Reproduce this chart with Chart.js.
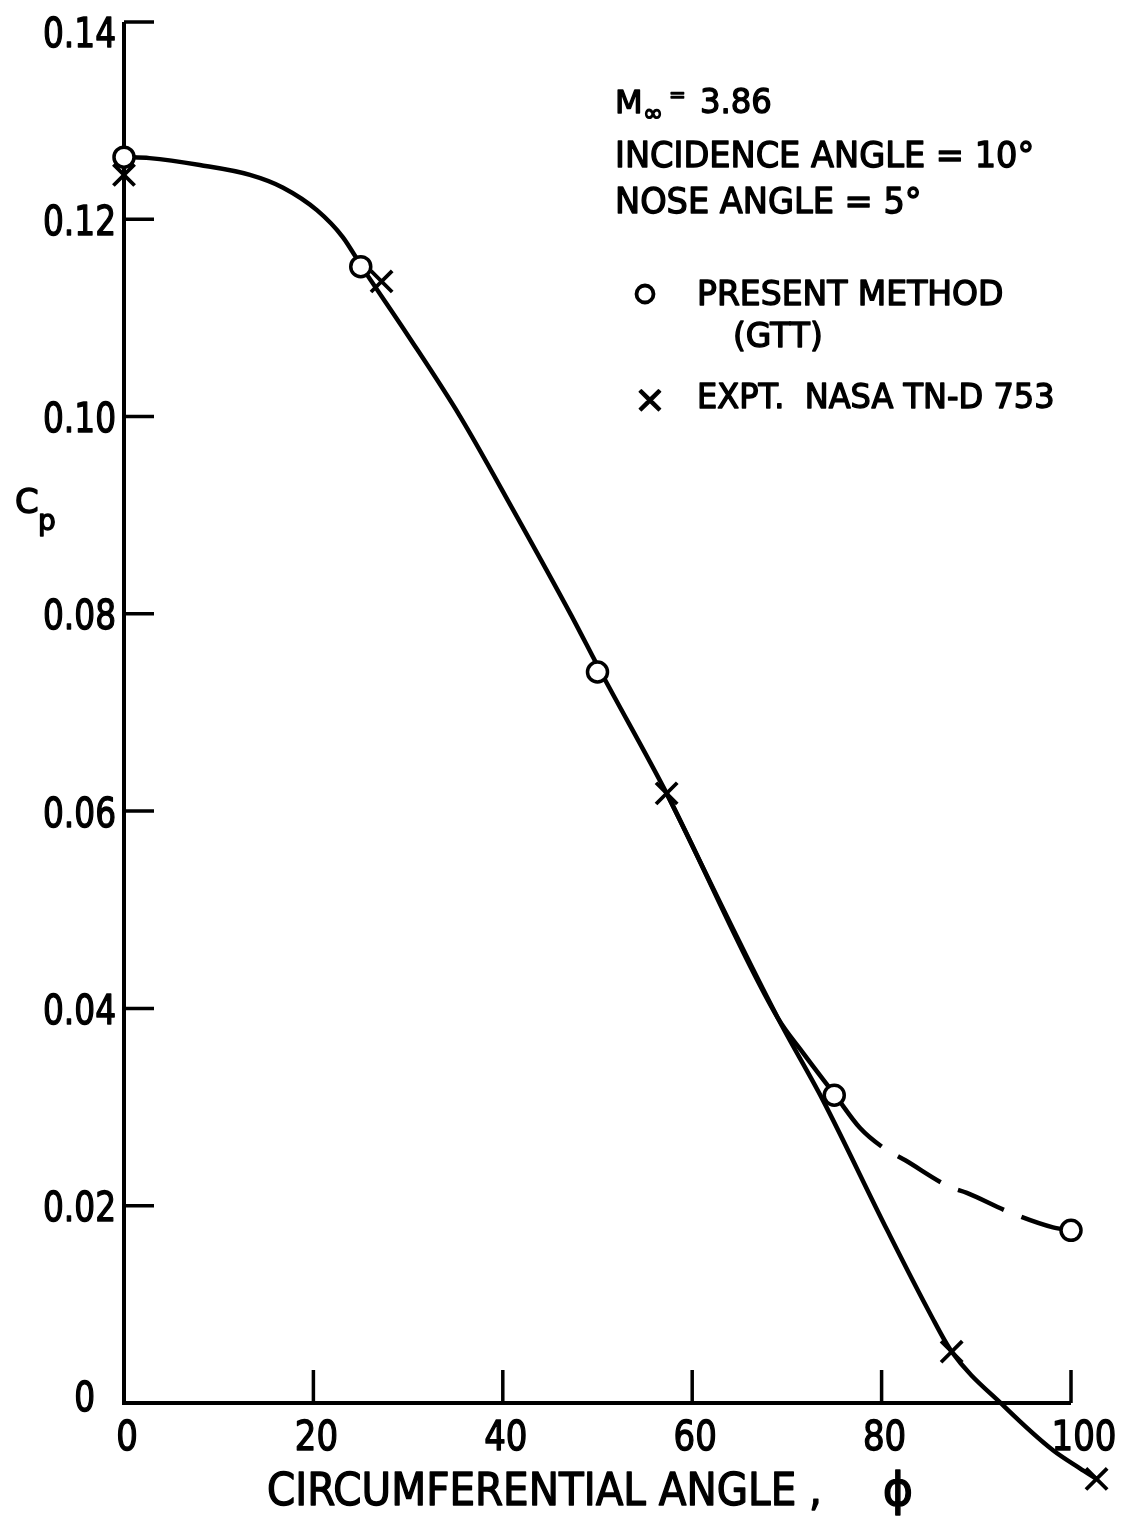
<!DOCTYPE html>
<html>
<head>
<meta charset="utf-8">
<script src="https://cdn.jsdelivr.net/npm/chart.js@4.4.0/dist/chart.umd.min.js"></script>
<style>
  html, body { margin: 0; padding: 0; background: #fff; }
  canvas { display: block; }
</style>
</head>
<body>
<canvas id="cp" width="1131" height="1519"></canvas>
<script>
// Pressure coefficient around a cone at incidence, M = 3.86

// Computed points, present method (GTT)
const gttAngle = [0, 25, 50, 75, 100];
const gttCp    = [0.1263, 0.1152, 0.0741, 0.0312, 0.0175];

// Experimental points, NASA TN-D 753
const exptAngle = [0, 27.2, 57.3, 87.4, 102.7];
const exptCp    = [0.1245, 0.1137, 0.0618, 0.0052, -0.0077];

// Faired curve through the GTT results (solid, then dashed past 80 deg)
const gttCurveAngle = [0, 2.7, 8.0, 13.3, 16.8, 20.4, 23.1, 25.1, 30.0, 35.5, 41.0, 47.2, 50.3, 57.3, 69.0, 71.7, 75.1, 77.7, 80.0, 82.5, 87.2, 89.0, 93.6, 98.1, 99.9];
const gttCurveCp    = [0.1263, 0.1262, 0.1255, 0.1245, 0.1232, 0.1209, 0.1182, 0.1152, 0.1082, 0.1000, 0.0907, 0.0799, 0.0742, 0.0618, 0.0391, 0.0355, 0.0312, 0.0279, 0.0260, 0.0246, 0.0219, 0.0213, 0.0193, 0.0178, 0.0175];

// Faired curve through the experiment where it leaves the GTT curve
const exptCurveAngle = [57.3, 69.0, 73.8, 80.6, 85.1, 87.4, 93.0, 98.1, 100.9, 102.7];
const exptCurveCp    = [0.0618, 0.0391, 0.0307, 0.0175, 0.0091, 0.0052, -0.0004, -0.0048, -0.0066, -0.0077];

// Axis ticks
const xTicks = [0, 20, 40, 60, 80, 100];
const xTickLabels = ['0', '20', '40', '60', '80', '100'];
const yTicks = [0, 0.02, 0.04, 0.06, 0.08, 0.10, 0.12, 0.14];
const yTickLabels = ['0', '0.02', '0.04', '0.06', '0.08', '0.10', '0.12', '0.14'];

const FONT = '"DejaVu Sans", "Liberation Sans", sans-serif';
const INK = '#000';

const pairs = (xs, ys) => xs.map((x, i) => ({ x: x, y: ys[i] }));

function drawText(ctx, s, x, y, size, opt) {
  opt = opt || {};
  ctx.save();
  ctx.font = size + 'px ' + FONT;
  ctx.textAlign = opt.align || 'left';
  ctx.textBaseline = opt.base || 'alphabetic';
  ctx.translate(x, y);
  ctx.scale(opt.sx || 1, 1);
  ctx.fillStyle = INK;
  ctx.fillText(s, 0, 0);
  ctx.lineWidth = opt.lw !== undefined ? opt.lw : 1.4;
  ctx.strokeStyle = INK;
  ctx.lineJoin = 'round';
  ctx.strokeText(s, 0, 0);
  ctx.restore();
}

// Axes drawn as an open frame: left axis up to 0.14, bottom axis out to 100,
// with inward tick marks.
const frameAxes = {
  id: 'frameAxes',
  beforeDatasetsDraw(chart) {
    const ctx = chart.ctx;
    const xs = chart.scales.x, ys = chart.scales.y;
    const x0 = xs.getPixelForValue(0);
    const xEnd = xs.getPixelForValue(xTicks[xTicks.length - 1]);
    const y0 = ys.getPixelForValue(0);
    const yTop = ys.getPixelForValue(yTicks[yTicks.length - 1]);
    ctx.save();
    ctx.strokeStyle = INK;
    ctx.lineWidth = 4;
    ctx.lineCap = 'butt';
    ctx.beginPath();
    ctx.moveTo(x0, yTop);
    ctx.lineTo(x0, y0);
    ctx.lineTo(xEnd, y0);
    ctx.stroke();
    ctx.lineWidth = 3.5;
    ctx.beginPath();
    yTicks.forEach(v => {
      if (v === 0) return;
      const py = ys.getPixelForValue(v);
      ctx.moveTo(x0, py);
      ctx.lineTo(x0 + 30, py);
    });
    xTicks.forEach(v => {
      if (v === 0) return;
      const px = xs.getPixelForValue(v);
      ctx.moveTo(px, y0);
      ctx.lineTo(px, y0 - 33);
    });
    ctx.stroke();
    ctx.restore();
  },
  afterDraw(chart) {
    const ctx = chart.ctx;
    const xs = chart.scales.x, ys = chart.scales.y;
    const x0 = xs.getPixelForValue(0);
    const y0 = ys.getPixelForValue(0);
    const top = chart.chartArea.top;

    // y tick labels
    const ySize = 40, ySx = 0.82;
    yTicks.forEach((v, i) => {
      const py = ys.getPixelForValue(v);
      let cy = Math.max(py + 1, top + 10);
      let right = x0 - 8;
      if (v === 0) { cy = py - 7; right = x0 - 29; }
      drawText(ctx, yTickLabels[i], right, cy + 0.365 * ySize, ySize, { align: 'right', sx: ySx });
    });

    // x tick labels
    const xSize = 41, xSx = 0.83;
    xTicks.forEach((v, i) => {
      const px = xs.getPixelForValue(v);
      const shift = v === 100 ? 13 : 3;
      drawText(ctx, xTickLabels[i], px + shift, y0 + 47, xSize, { align: 'center', sx: xSx });
    });

    // axis titles
    drawText(ctx, 'CIRCUMFERENTIAL ANGLE ,', 267, 1505, 44, { sx: 0.92 });
    drawText(ctx, '\u03D5', 898, 1505, 46, { align: 'center' });
    drawText(ctx, 'C', 15, 513, 34);
    drawText(ctx, 'p', 38, 530, 28);

    // flow conditions
    drawText(ctx, 'M', 615, 113, 32);
    drawText(ctx, '\u221E', 643, 121, 24);
    drawText(ctx, '=', 669, 101, 20);
    drawText(ctx, '3.86', 700, 113, 34, { sx: 0.95 });
    drawText(ctx, 'INCIDENCE ANGLE = 10\u00B0', 615, 167, 35, { sx: 0.96 });
    drawText(ctx, 'NOSE ANGLE = 5\u00B0', 615, 213, 35, { sx: 0.96 });

    // key
    ctx.save();
    ctx.strokeStyle = INK;
    ctx.lineWidth = 3.8;
    ctx.beginPath();
    ctx.arc(645, 294, 8.5, 0, Math.PI * 2);
    ctx.stroke();
    ctx.restore();
    drawText(ctx, 'PRESENT METHOD', 697, 305, 33);
    drawText(ctx, '(GTT)', 733, 347, 33);
    drawText(ctx, '\u00D7', 650, 412, 38, { align: 'center' });
    drawText(ctx, 'EXPT.  NASA TN-D 753', 697, 408, 33, { sx: 0.97 });
  }
};

const X_MIN = 0, X_MAX = 105, Y_MIN = -0.01, Y_MAX = 0.14;
const PX_PER_DEG = 9.47;
const PX_PER_CP = 9864;
const LEFT = 124, TOP = 22;

new Chart(document.getElementById('cp'), {
  type: 'scatter',
  data: {
    datasets: [
      {
        label: 'PRESENT METHOD (GTT)',
        data: pairs(gttAngle, gttCp),
        pointStyle: 'circle',
        pointRadius: 10,
        pointBorderWidth: 3.5,
        pointBackgroundColor: '#fff',
        pointBorderColor: INK,
        showLine: false,
        clip: false,
        order: 0
      },
      {
        label: 'EXPT. NASA TN-D 753',
        data: pairs(exptAngle, exptCp),
        pointStyle: 'crossRot',
        pointRadius: 15,
        pointBorderWidth: 3.8,
        pointBorderColor: INK,
        showLine: false,
        clip: false,
        order: 0
      },
      {
        label: 'GTT curve',
        data: pairs(gttCurveAngle, gttCurveCp),
        showLine: true,
        pointRadius: 0,
        borderColor: INK,
        borderWidth: 4.5,
        cubicInterpolationMode: 'monotone',
        clip: false,
        order: 2,
        segment: {
          borderDash: c => c.p0.parsed.x >= 80 ? [50, 19] : undefined,
          borderDashOffset: c => c.p0.parsed.x >= 80 ? 50 : undefined
        }
      },
      {
        label: 'Experiment curve',
        data: pairs(exptCurveAngle, exptCurveCp),
        showLine: true,
        pointRadius: 0,
        borderColor: INK,
        borderWidth: 4.5,
        cubicInterpolationMode: 'monotone',
        clip: false,
        order: 2
      }
    ]
  },
  options: {
    responsive: false,
    animation: false,
    devicePixelRatio: 1,
    layout: {
      autoPadding: false,
      padding: {
        left: LEFT,
        top: TOP,
        right: 1131 - LEFT - (X_MAX - X_MIN) * PX_PER_DEG,
        bottom: 1519 - TOP - (Y_MAX - Y_MIN) * PX_PER_CP
      }
    },
    plugins: { legend: { display: false }, tooltip: { enabled: false } },
    scales: {
      x: { type: 'linear', min: X_MIN, max: X_MAX, display: false },
      y: { type: 'linear', min: Y_MIN, max: Y_MAX, display: false }
    }
  },
  plugins: [frameAxes]
});
</script>
</body>
</html>
